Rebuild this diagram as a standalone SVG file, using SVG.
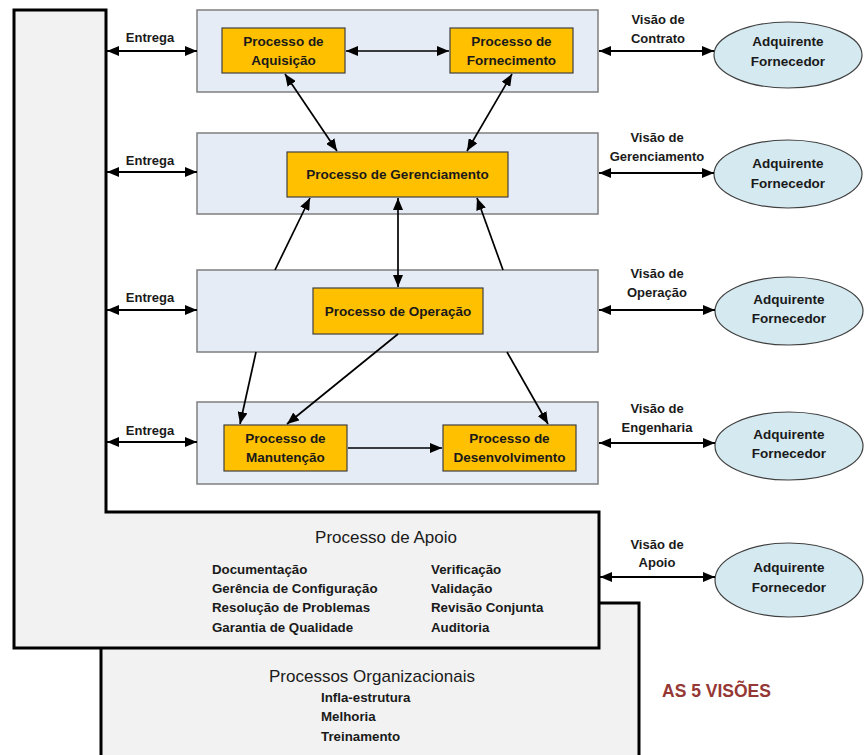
<svg xmlns="http://www.w3.org/2000/svg" width="864" height="755" viewBox="0 0 864 755">
<style>
text{font-family:"Liberation Sans",Arial,sans-serif;fill:#1a1a1a}
.b{font-weight:bold;font-size:13px}
.p{font-weight:bold;font-size:13.5px}
.m{font-weight:bold;font-size:13.3px}
.t{font-size:17px}
.lane{fill:#e6ecf6;stroke:#7f7f7f;stroke-width:1.5}
.proc{fill:#ffc000;stroke:#404040;stroke-width:1.2}
.ell{fill:#d5e9f0;stroke:#404040;stroke-width:1.2}
.big{fill:#f2f2f2;stroke:#000;stroke-width:3}
.c{stroke:#000;stroke-width:2;fill:none}
.ci{stroke:#000;stroke-width:1.7;fill:none}
.two{marker-start:url(#ah);marker-end:url(#ah)}
.one{marker-end:url(#ah)}
</style>
<defs>
<marker id="ah" markerUnits="userSpaceOnUse" markerWidth="12" markerHeight="10" refX="12" refY="5" orient="auto-start-reverse">
<path d="M0,0 L12,5 L0,10 z" fill="#000"/>
</marker>
</defs>

<g id="organizacionais">
<rect class="big" x="101" y="603" width="538" height="170"/>
<text class="t" x="372" y="682" text-anchor="middle">Processos Organizacionais</text>
<text class="m" x="321" y="702">Infla-estrutura</text>
<text class="m" x="321" y="721">Melhoria</text>
<text class="m" x="321" y="741">Treinamento</text>
</g>

<g id="apoio">
<path class="big" d="M14,10 H106 V512 H599 V648 H14 Z"/>
<text class="t" x="386" y="543" text-anchor="middle">Processo de Apoio</text>
<text class="m" x="212" y="574">Documentação</text>
<text class="m" x="212" y="593">Gerência de Configuração</text>
<text class="m" x="212" y="612">Resolução de Problemas</text>
<text class="m" x="212" y="632">Garantia de Qualidade</text>
<text class="m" x="431" y="574">Verificação</text>
<text class="m" x="431" y="593">Validação</text>
<text class="m" x="431" y="612">Revisão Conjunta</text>
<text class="m" x="431" y="632">Auditoria</text>
</g>

<g id="lane-contrato"><rect class="lane" x="197" y="10" width="401" height="82"/></g>
<g id="lane-gerenciamento"><rect class="lane" x="197" y="133" width="401" height="81"/></g>
<g id="lane-operacao"><rect class="lane" x="197" y="270" width="401" height="82"/></g>
<g id="lane-engenharia"><rect class="lane" x="197" y="402" width="401" height="82"/></g>

<g id="aquisicao">
<rect class="proc" x="222" y="28" width="123" height="45"/>
<text class="p" x="283.5" y="46" text-anchor="middle">Processo de</text>
<text class="p" x="283.5" y="65" text-anchor="middle">Aquisição</text>
</g>
<g id="fornecimento">
<rect class="proc" x="450" y="28" width="123" height="45"/>
<text class="p" x="511.5" y="46" text-anchor="middle">Processo de</text>
<text class="p" x="511.5" y="65" text-anchor="middle">Fornecimento</text>
</g>
<g id="gerenciamento">
<rect class="proc" x="287" y="152" width="221" height="45"/>
<text class="p" x="397.5" y="179" text-anchor="middle">Processo de Gerenciamento</text>
</g>
<g id="operacao">
<rect class="proc" x="313" y="288" width="170" height="46"/>
<text class="p" x="398" y="315.5" text-anchor="middle">Processo de Operação</text>
</g>
<g id="manutencao">
<rect class="proc" x="224" y="425" width="123" height="46"/>
<text class="p" x="285.5" y="443" text-anchor="middle">Processo de</text>
<text class="p" x="285.5" y="462" text-anchor="middle">Manutenção</text>
</g>
<g id="desenvolvimento">
<rect class="proc" x="443" y="425" width="133" height="46"/>
<text class="p" x="509.5" y="443" text-anchor="middle">Processo de</text>
<text class="p" x="509.5" y="462" text-anchor="middle">Desenvolvimento</text>
</g>

<g id="ator-contrato">
<ellipse class="ell" cx="788" cy="55" rx="74" ry="33"/>
<text class="p" x="788" y="46" text-anchor="middle">Adquirente</text>
<text class="p" x="788" y="66" text-anchor="middle">Fornecedor</text>
</g>
<g id="ator-gerenciamento">
<ellipse class="ell" cx="788" cy="174" rx="74" ry="34"/>
<text class="p" x="788" y="168" text-anchor="middle">Adquirente</text>
<text class="p" x="788" y="188" text-anchor="middle">Fornecedor</text>
</g>
<g id="ator-operacao">
<ellipse class="ell" cx="789" cy="311" rx="74" ry="34"/>
<text class="p" x="789" y="304" text-anchor="middle">Adquirente</text>
<text class="p" x="789" y="323" text-anchor="middle">Fornecedor</text>
</g>
<g id="ator-engenharia">
<ellipse class="ell" cx="789" cy="446" rx="74" ry="34"/>
<text class="p" x="789" y="439" text-anchor="middle">Adquirente</text>
<text class="p" x="789" y="458" text-anchor="middle">Fornecedor</text>
</g>
<g id="ator-apoio">
<ellipse class="ell" cx="789" cy="580" rx="74" ry="37"/>
<text class="p" x="789" y="572" text-anchor="middle">Adquirente</text>
<text class="p" x="789" y="592" text-anchor="middle">Fornecedor</text>
</g>

<g id="connectors">
<path class="c two" d="M107,51 H197"/>
<path class="c two" d="M107,172 H197"/>
<path class="c two" d="M107,310 H197"/>
<path class="c two" d="M107,442 H197"/>
<path class="c two" d="M599,51 H714"/>
<path class="c two" d="M599,173 H714"/>
<path class="c two" d="M599,310 H715"/>
<path class="c two" d="M599,443 H715"/>
<path class="c two" d="M600,577 H715"/>
<path class="ci two" d="M346,51 H449"/>
<path class="ci two" d="M285,74 L337,151"/>
<path class="ci two" d="M512,74 L467,151"/>
<path class="ci one" d="M275,270 L310,198"/>
<path class="ci two" d="M398,198 V287"/>
<path class="ci one" d="M503,270 L477,198"/>
<path class="ci one" d="M256,352 L240,424"/>
<path class="ci one" d="M398,334 L287,424"/>
<path class="ci one" d="M507,352 L548,424"/>
<path class="ci one" d="M348,448 H442"/>
</g>

<g id="labels">
<text class="b" x="150" y="42" text-anchor="middle">Entrega</text>
<text class="b" x="150" y="165" text-anchor="middle">Entrega</text>
<text class="b" x="150" y="302" text-anchor="middle">Entrega</text>
<text class="b" x="150" y="435" text-anchor="middle">Entrega</text>
<text class="b" x="658" y="24" text-anchor="middle">Visão de</text>
<text class="b" x="658" y="43" text-anchor="middle">Contrato</text>
<text class="b" x="657" y="142" text-anchor="middle">Visão de</text>
<text class="b" x="657" y="161" text-anchor="middle">Gerenciamento</text>
<text class="b" x="657" y="278" text-anchor="middle">Visão de</text>
<text class="b" x="657" y="297" text-anchor="middle">Operação</text>
<text class="b" x="657" y="413" text-anchor="middle">Visão de</text>
<text class="b" x="657" y="432" text-anchor="middle">Engenharia</text>
<text class="b" x="657" y="549" text-anchor="middle">Visão de</text>
<text class="b" x="657" y="567" text-anchor="middle">Apoio</text>
<text x="662" y="697" style="font-weight:bold;font-size:17.5px;fill:#953735">AS 5 VISÕES</text>
</g>
</svg>
